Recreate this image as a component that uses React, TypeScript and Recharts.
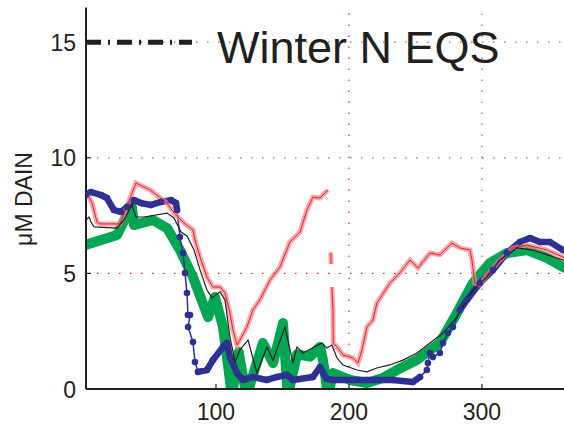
import { LineChart, Line, XAxis, YAxis, ReferenceLine } from "recharts";

// axis ticks
const xTicks = [100, 200, 300];
const yTicks = [0, 5, 10, 15];

// winter EQS level + legend sample end (x units)
const eqsLevel = 15;
const eqsSampleEnd = 82;

// thick green series
const greenX = [2, 25.6, 33.8, 36.8, 38.3, 52.6, 63.2, 72.9, 82.7, 94, 99.2, 105.3, 112, 117, 123, 135.3, 142.9, 150.4, 154, 160.9, 170.7, 178.2, 180.5, 184.2, 188, 200.8, 213.5, 225.6, 236, 251, 268.4, 281.2, 293.2, 306, 318.8, 333.8, 348.9, 360.9, 373.7];
const greenY = [6.23, 6.66, 7.61, 7.87, 7.09, 7.31, 6.96, 6.01, 4.84, 3.11, 3.98, 2.68, -0.3, 1.6, -0.3, 1.99, 1.12, 2.85, -0.3, 1.5, 1.4, 1.82, 1.25, -0.3, 0.69, 0.39, 0.26, 0.48, 0.82, 1.25, 1.99, 3.29, 4.58, 5.45, 5.88, 6.01, 5.67, 5.28, 4.93];

// thin black series
const blackX = [2.3, 4.5, 6, 8.3, 25.6, 30.8, 36.8, 39.8, 45.9, 63.2, 68.4, 73.7, 78.2, 83.5, 88, 93.2, 97, 103, 106.8, 110.5, 114.3, 118, 124.1, 130.8, 138.3, 142.9, 151.9, 157.9, 160.9, 165.4, 179.7, 183.5, 187.2, 191, 195.5, 206, 213.5, 221, 230.8, 240.6, 251.1, 260.9, 270.7, 281.2, 293.2, 303.8, 313.5, 326.3, 338.3, 360.9, 373.7];
const blackY = [7.31, 7.44, 7.22, 7.01, 6.96, 7.31, 7.96, 7.44, 7.44, 7.61, 7.4, 6.79, 6.62, 6.01, 5.15, 4.28, 3.94, 4.2, 3.85, 2.25, 1.17, 1.69, 2.12, 0.69, 1.82, 1.25, 2.68, 1.12, 1.82, 1.56, 1.99, 1.77, 1.9, 1.34, 1.04, 0.82, 0.74, 0.91, 1.04, 1.25, 1.56, 1.99, 2.42, 3.11, 4.28, 4.84, 5.58, 6.1, 6.01, 5.58, 5.23];

// red series (null = gap in record)
const redX = [3, 6.8, 10.5, 12.8, 27.8, 39.8, 50.4, 63.2, 68.4, 75.9, 82.7, 84.2, 88, 93.2, 97.7, 103, 106.8, 110.5, 112.8, 115.8, 118, 123.3, 127.8, 133, 140.6, 148.1, 155.6, 163.2, 168.4, 172.9, 178.2, 184.2, 185.3, 186.3, 186.6, 186.9, 187.2, 188, 188.2, 191, 195.5, 203, 206.8, 209.8, 213.5, 218, 221, 230.8, 238.3, 245.9, 251.9, 260.9, 268.4, 277.4, 283.5, 291, 292.5, 294.7, 298.5, 303.8, 313.5, 323.3, 333.8, 348.9, 360.9, 373.7];
const redY = [8.48, 8.04, 7.22, 7.14, 7.14, 8.91, 8.61, 8.04, 7.61, 7.18, 6.88, 6.44, 5.71, 4.84, 4.41, 4.41, 4.15, 3.29, 2.55, 1.9, 2.12, 2.68, 3.42, 3.85, 4.71, 5.28, 6.36, 6.79, 7.74, 8.3, 8.26, 8.61, null, 5.9, 5.4, null, 4.41, 3.42, 1.99, 1.82, 1.47, 1.34, 1.12, 1.69, 2.68, 2.98, 3.72, 4.58, 5.02, 5.58, 5.23, 5.88, 5.8, 6.31, 6.1, 6.01, 5.58, 4.58, 4.5, 4.93, 5.58, 6.1, 6.23, 6.01, 5.71, 5.36];

// blue series with markers
const blueX = [2, 6, 13.5, 18, 23.3, 28.6, 33.1, 38.3, 43.6, 51.1, 58.6, 66.2, 69.9, 70.7, 72.9, 75.2, 76.7, 78.2, 78.9, 80.5, 79, 82.7, 84.2, 86.5, 93.2, 97.7, 105.3, 108.3, 110.5, 115.8, 120.3, 127.8, 138.3, 145.9, 153.4, 157.9, 172.9, 178.2, 183, 188, 213.5, 233, 248, 253.4, 258.6, 259.4, 260.9, 263.2, 268.4, 270.7, 274.4, 278.2, 283.5, 288.7, 298.5, 308.3, 318.8, 328.6, 336.1, 343.6, 351.1, 360.9, 373.7];
const blueY = [8.39, 8.52, 8.39, 8.26, 7.74, 7.66, 7.87, 8.17, 8.04, 7.96, 8.09, 8.17, 8.04, 7.74, 6.57, 5.88, 5.02, 4.15, 3.2, 3.2, 2.68, 2.03, 1.17, 0.74, 0.82, 1.25, 1.82, 1.99, 1.38, 0.69, 0.39, 0.52, 0.39, 0.52, 0.61, 0.39, 0.52, 0.95, 0.45, 0.39, 0.39, 0.39, 0.3, 0.52, 0.82, 1.12, 1.56, 1.38, 1.56, 1.99, 2.42, 2.68, 3.42, 3.85, 4.58, 5.15, 5.88, 6.36, 6.53, 6.36, 6.36, 6.01, 5.93];

const toPoints = (xs: number[], ys: (number | null)[]) =>
  xs.map((x, i) => ({ x, y: ys[i] }));

const green = toPoints(greenX, greenY);
const black = toPoints(blackX, blackY);
const red = toPoints(redX, redY);
const blue = toPoints(blueX, blueY);
// the sparse stretches (steep drop, late rise) show as thin line + dots
const blueBand = blue.map((p) =>
  (p.x > 71 && p.x < 86) || (p.x > 254 && p.x < 282) ? { x: p.x, y: null } : p
);

const font = '"Liberation Sans", Arial, Helvetica, sans-serif';
const ink = "#231f20";
const gridDots = "1.5 9.5";

function BottomTick(props: any) {
  const { x, y, payload } = props;
  return (
    <g>
      <line x1={x} y1={y} x2={x} y2={y - 5} stroke={ink} strokeWidth={1.2} />
      <text x={x} y={y + 31} textAnchor="middle" fontSize={23} fontFamily={font} fill={ink}>
        {payload.value}
      </text>
    </g>
  );
}

function TopTick(props: any) {
  const { x, y } = props;
  return <line x1={x} y1={y} x2={x} y2={y + 5} stroke={ink} strokeWidth={1.2} />;
}

function LeftTick(props: any) {
  const { x, y, payload } = props;
  return (
    <g>
      <line x1={x} y1={y} x2={x + 5} y2={y} stroke={ink} strokeWidth={1.2} />
      <text x={x - 10} y={y + 8.5} textAnchor="end" fontSize={23} fontFamily={font} fill={ink}>
        {payload.value}
      </text>
    </g>
  );
}

export default function App() {
  return (
    <div
      style={{
        position: "absolute",
        left: 0,
        top: 0,
        width: 564,
        height: 425,
        overflow: "hidden",
        background: "#fff",
      }}
    >
      <LineChart
        width={580}
        height={425}
        margin={{ top: 7.5, right: 5, bottom: 0, left: 0 }}
      >
        <XAxis
          dataKey="x"
          type="number"
          domain={[2.25, 370]}
          allowDataOverflow
          ticks={xTicks}
          tickSize={0}
          tickMargin={0}
          tick={<BottomTick />}
          height={36}
          axisLine={{ stroke: ink, strokeWidth: 2 }}
          tickLine={false}
        />
        <XAxis
          xAxisId="top"
          orientation="top"
          dataKey="x"
          type="number"
          domain={[2.25, 370]}
          allowDataOverflow
          ticks={xTicks}
          tickSize={0}
          tickMargin={0}
          tick={<TopTick />}
          height={0}
          axisLine={{ stroke: ink, strokeWidth: 2 }}
          tickLine={false}
        />
        <YAxis
          type="number"
          domain={[0, 16.5]}
          allowDataOverflow
          ticks={yTicks}
          tickSize={0}
          tickMargin={0}
          tick={<LeftTick />}
          width={86}
          axisLine={{ stroke: ink, strokeWidth: 2 }}
          tickLine={false}
        />

        {/* dotted grid, some of it drawn red in the original */}
        <ReferenceLine y={5} stroke="#ed1c24" strokeDasharray={gridDots} strokeWidth={1.2} />
        <ReferenceLine y={10} stroke="#777" strokeDasharray={gridDots} strokeWidth={1.2} />
        <ReferenceLine y={15} stroke="#777" strokeDasharray={gridDots} strokeWidth={1.2} />
        <ReferenceLine x={200} stroke="#ed1c24" strokeDasharray={gridDots} strokeWidth={1.2} />
        <ReferenceLine x={300} stroke="#777" strokeDasharray={gridDots} strokeWidth={1.2} />

        {/* legend sample for the EQS line */}
        <ReferenceLine
          segment={[
            { x: 2.25, y: eqsLevel },
            { x: eqsSampleEnd, y: eqsLevel },
          ]}
          stroke={ink}
          strokeWidth={5}
          strokeDasharray="15 7 2 7"
        />

        <Line data={green} dataKey="y" stroke="#00a651" strokeWidth={10} strokeLinejoin="round" dot={false} isAnimationActive={false} />
        <Line data={blueBand} dataKey="y" stroke="#2e3192" strokeWidth={6.5} strokeLinejoin="round" strokeLinecap="round" dot={false} connectNulls={false} isAnimationActive={false} />
        <Line
          data={blue}
          dataKey="y"
          stroke="#2e3192"
          strokeWidth={1.5}
          dot={{ r: 3.3, fill: "#2e3192", stroke: "#2e3192", strokeWidth: 0 }}
          isAnimationActive={false}
        />
        <Line data={red} dataKey="y" stroke="#f4868a" strokeOpacity={0.7} strokeWidth={5} dot={false} connectNulls={false} isAnimationActive={false} />
        <Line data={red} dataKey="y" stroke="#ed1c24" strokeWidth={1} dot={false} connectNulls={false} isAnimationActive={false} />
        <Line data={black} dataKey="y" stroke={ink} strokeWidth={1.2} dot={false} isAnimationActive={false} />
      </LineChart>

      <svg
        width={564}
        height={425}
        style={{ position: "absolute", left: 0, top: 0, pointerEvents: "none" }}
      >
        <text x={217} y={63} fontSize={45} fontFamily={font} fill={ink}>
          Winter N EQS
        </text>
        <text
          x={32}
          y={199}
          transform="rotate(-90, 32, 199)"
          textAnchor="middle"
          fontSize={23}
          fontFamily={font}
          fill={ink}
        >
          μM DAIN
        </text>
      </svg>
    </div>
  );
}
